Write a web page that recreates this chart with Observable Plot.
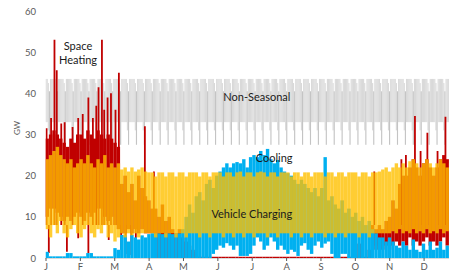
<!DOCTYPE html>
<html><head><meta charset="utf-8">
<script src="https://cdn.jsdelivr.net/npm/d3@7"></script>
<script src="https://cdn.jsdelivr.net/npm/@observablehq/plot@0.6"></script>
<style>body{margin:0;background:#fff;overflow:hidden}</style>
</head><body><div id="chart"></div>
<script>
// Month labels placed every 730 hours (1/12 of 8760 h)
const monthLabels = ["J","F","M","A","M","J","J","A","S","O","N","D"];
const monthTickHours = [0,730,1460,2190,2920,3650,4380,5110,5840,6570,7300,8030];
const yTicks = [0,10,20,30,40,50,60];

// Non-Seasonal daily range by day of week (k=0 is the low weekend day)
const nonSeasonalHi = [40.5, 43.5, 43.5, 43.5, 43.5, 43.5, 42.5];
const nonSeasonalLo = [27.5, 33, 33, 33, 33, 33, 31];
const weekStartOffset = 4; // day-of-year d -> (d + offset) % 7

// Three-day segments (122 of them): daily max / min envelopes, GW
const heatHi = [29,30,31,30,29,28,27,29,28,30, 30,29,31,30,29,31,30,29,30,29,
 28,27,18,20,16,18,14,20,17,15, 14,12,12,10,13,9,10,7,6,7, 5,4,3,2,1.5,0.3,0.3,0.3,0.3,0.3,
 0.3,0.3,0.3,0.3,0.3,0.3,0.3,0.3,0.3,0.3, 0.3,0.3,0.3,0.3,0.3,0.3,0.3,0.3,0.3,0.3,
 0.3,0.3,0.3,0.3,0.3,0.3,0.3,0.3,0.3,0.3, 0.3,0.3,0.3,0.3,0.3,0.3,0.3,0.3,0.3,0.3,
 0.3,0.3,3.5,0.3,0.3,2,8,7,8,7, 9,10,14,12,18,20,20,22,24,22, 20,23,24,22,20,22,24,25,24,22,24,23];
const heatLo = [10,12,12,11,10,9,10,9,10,11, 10,9,11,10,11,12,12,10,9,10,
 8,7,6,6,7,6,7,6,7,6, 6,6,0,0,0,0,0,0,0,0, 0,0,0,0,0,0,0,0,0,0,
 0,0,0,0,0,0,0,0,0,0, 0,0,0,0,0,0,0,0,0,0, 0,0,0,0,0,0,0,0,0,0, 0,0,0,0,0,0,0,0,0,0,
 0,0,0,0,0,0,3,2,3,2, 3,2,3,4,3,4,3,5,3,4, 3,4,5,3,4,3,4,5,3,4,3,4];
// Space Heating short peaks and dips (day of year, GW)
const heatPeakDay = [0,4,7,9,13,16,23,28,32,37,41,44,46,49,51,54,57,61,64,87,95,290,314,318,326,331,337,346,353,362];
const heatPeakGW  = [31.5,34,53,45.6,32.7,33,31.8,34,35,39,34,37,41.5,53,36,39,40,36,45,32,21,21,24,25,34.5,26,30.4,26,34.3,30];
const heatDipDay = [2,18,28,37,55,66,70,75,79];
const heatDipGW  = [1.2,1.5,4.8,1.2,4.4,2,1,0.7,2];

const coolHi = [1.5,0.4,0.4,0.4,0.4,0.4,1.2,1.2,0.4,0.4, 0.4,0.4,1.2,1.2,0.4,0.4,0.4,0.4,0.4,0.4,
 2.4,2,5.6,5.5,4,5.6,5,4.5,5.5,5, 5.8,6,6,6,5.8,6,6,5.8,6,6, 7,10,13,11,15,16,14,18,19,17,
 20,21,22,23,22,23,23.3,23,24,22, 24.5,25,24.5,26,25,26.5,24,23,23.8,22, 21,20.6,20,19,18,19,18,17,16,17,
 15,17,24.5,14,15,13,12,14,11,12, 10,11,9,10,8,9,7,6,5,5, 4,5,4,3,2.5,4,3,2,4.5,2, 1.5,3.5,2,4,2,2.5,4,2,3,2,2,2];
const coolLo = [0,0,0,0,0,0,0,0,0,0, 0,0,0,0,0,0,0,0,0,0, 0,0,0,0,0,0,0,0,0,0, 0,0,0,0,0,0,0,0,0,0,
 0,0,0,0,0,0,0,0,0,1, 2,3,2.5,3.6,3,2,3,0.5,0.5,0.5, 1,3,5,4,2,3,5,4,2,3,
 2,1,2,1.5,0.5,3,3.6,2,1,3, 4,2.5,3.5,4,1,0,0,1,1,0, 0,0,0,0,0,0,0,0,0,0,
 0,0,0,0,0,0,0,0,0,0, 0,0,0,0,0,0,0,0,0,0,0,0];
const evHi = [24,25,26,27,25,24,23,24,22,23, 24,23,25,23,22,24,23,25,22,23,
 22,23,21.5,22,21,22,21,21.5,22,21, 20.8,20.8,19.8,20.8,20.8,19.8,20.8,20.8,19.8,20.8,
 20.8,19.8,20.8,20.8,20.8,19.8,20.8,20.8,19.8,20.8, 20.8,20.8,19.8,20.8,20.8,19.8,20.8,21,19.8,20.8,
 20.8,19.8,20.8,21,20.8,19.8,20.8,20.8,19.8,20.8, 20.8,20.8,19.8,20.8,20.8,19.8,20.8,20.8,19.8,20.8,
 20.8,20.8,19.8,20.8,20.8,19.8,20.8,20.8,19.8,20.8, 20.8,20.8,19.8,20.8,20.8,19.8,20.8,20.8,21,21.5,
 22,21,22,23,22,23,22,23.5,24,23, 22,23,24,23,22,23,24,23,22,23,23,22];
const evLo = [7,5,8,6,9,6,5,7,8,6, 5,7,8,6,5,7,6,8,5,6, 4,5,6,5,6,5.5,6,5,6,6,
 6,6,5,6,6,5,6,6,5,6, 6,5,6,6,6,5,6,6,5,6, 6,6,5,6,6,5,6,6,5,6, 6,5,6,6,6,5,6,6,5,6,
 6,6,5,6,6,5,6,6,5,6, 6,6,5,6,6,5,6,6,5,6, 6,6,5,6,6,5,6,6,6,6, 6,6,6.5,6,7,6,6.5,6,7,6, 6.5,6,7,6,6.5,6,7,6,6.5,6,7,6];

const segs = heatHi.map((_, i) => ({
  d0: i * 3, d1: i * 3 + 3,
  heatHi: heatHi[i], heatLo: heatLo[i],
  coolHi: coolHi[i], coolLo: coolLo[i],
  evHi: evHi[i], evLo: evLo[i]
}));
const days = d3.range(365).map(d => {
  const k = (d + weekStartOffset) % 7;
  return {d0: d, d1: d + 1, hi: nonSeasonalHi[k], lo: nonSeasonalLo[k], weekend: k === 0};
});
const peaks = heatPeakDay.map((d, i) => ({day: d + 0.5, gw: heatPeakGW[i]}));
const dips = heatDipDay.map((d, i) => ({day: d + 0.5, gw: heatDipGW[i]}));
const xTicks = monthTickHours.map(h => h / 24);

const labels = [
  {text: "Space", day: 28.3, gw: 51.6},
  {text: "Heating", day: 28.3, gw: 48.1},
  {text: "Non-Seasonal", day: 186.6, gw: 39.1},
  {text: "Cooling", day: 201.9, gw: 24.4},
  {text: "Vehicle Charging", day: 182.1, gw: 10.8}
];

const chart = Plot.plot({
  width: 449, height: 278,
  marginLeft: 45.5, marginRight: 0, marginTop: 11, marginBottom: 20,
  style: {fontFamily: "Lato, 'Open Sans', sans-serif", background: "#fff"},
  x: {domain: [0, 365], range: [45.5, 457.95]},
  y: {domain: [0, 60]},
  marks: [
    Plot.ruleY([0], {stroke: "#d9d9d9"}),
    Plot.rectY(days, {x1: "d0", x2: "d1", y1: "lo", y2: "hi", fill: d => d.weekend ? "#c4c4c4" : "#d9d9d9", inset: 0, clip: true}),
    Plot.rectY(segs, {x1: "d0", x2: "d1", y1: "heatLo", y2: "heatHi", fill: "#c00000", inset: 0, clip: true}),
    Plot.ruleX(peaks, {x: "day", y1: 8, y2: "gw", stroke: "#c00000", strokeWidth: 1.8, clip: true}),
    Plot.ruleX(dips, {x: "day", y1: "gw", y2: 8, stroke: "#c00000", strokeWidth: 1.8, clip: true}),
    Plot.rectY(segs, {x1: "d0", x2: "d1", y1: "coolLo", y2: "coolHi", fill: "#00b0f0", inset: 0, clip: true}),
    Plot.rectY(segs, {x1: "d0", x2: "d1", y1: "evLo", y2: "evHi", fill: "#ffc000", fillOpacity: 0.8, inset: 0, clip: true}),
    Plot.axisY({ticks: yTicks, tickSize: 0, tickPadding: 10, label: null, fontSize: 9.5, color: "#595959"}),
    Plot.axisX({ticks: xTicks, tickFormat: d => monthLabels[xTicks.indexOf(d)], tickSize: 3, tickPadding: 2, label: null, fontSize: 9.5, color: "#595959"}),
    Plot.text(["GW"], {frameAnchor: "left", dx: -29, rotate: -90, fontSize: 8, fill: "#595959"}),
    Plot.text(labels, {x: "day", y: "gw", text: "text", fontSize: 11, fill: "#1a1a1a"})
  ]
});
document.getElementById("chart").appendChild(chart);
</script>
</body></html>
